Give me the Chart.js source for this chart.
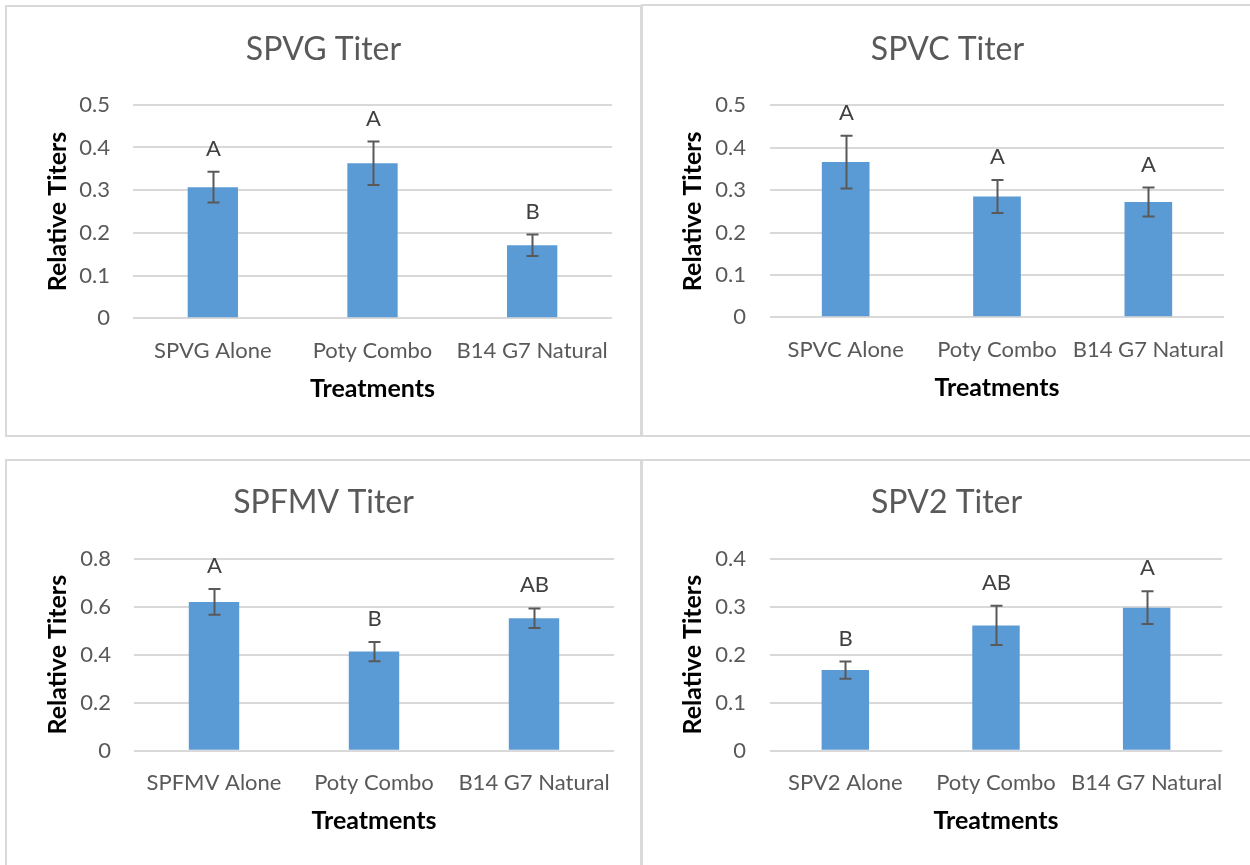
<!DOCTYPE html>
<html>
<head>
<meta charset="utf-8">
<script src="https://cdn.jsdelivr.net/npm/chart.js@4.4.1/dist/chart.umd.min.js"></script>
<style>
  html, body { margin: 0; padding: 0; background: #fff; width: 1250px; height: 865px; overflow: hidden; }
  .frame { position: absolute; border: 2px solid #d9d9d9; box-sizing: border-box; }
  canvas { position: absolute; }
</style>
</head>
<body>
<div class="frame" style="left:5px;top:5px;width:637px;height:432px"></div>
<div class="frame" style="left:641px;top:4px;width:620px;height:433px"></div>
<div class="frame" style="left:5px;top:459px;width:637px;height:420px"></div>
<div class="frame" style="left:641px;top:459px;width:620px;height:420px"></div>
<canvas id="spvg"></canvas>
<canvas id="spvc"></canvas>
<canvas id="spfmv"></canvas>
<canvas id="spv2"></canvas>
<script>
// ---- data ----
const spvgLabels  = ['SPVG Alone', 'Poty Combo', 'B14 G7 Natural'];
const spvgTiter   = [0.307, 0.363, 0.171];
const spvgError   = [0.036, 0.051, 0.025];
const spvgGroups  = ['A', 'A', 'B'];

const spvcLabels  = ['SPVC Alone', 'Poty Combo', 'B14 G7 Natural'];
const spvcTiter   = [0.366, 0.285, 0.272];
const spvcError   = [0.062, 0.039, 0.034];
const spvcGroups  = ['A', 'A', 'A'];

const spfmvLabels = ['SPFMV Alone', 'Poty Combo', 'B14 G7 Natural'];
const spfmvTiter  = [0.620, 0.413, 0.552];
const spfmvError  = [0.054, 0.040, 0.041];
const spfmvGroups = ['A', 'B', 'AB'];

const spv2Labels  = ['SPV2 Alone', 'Poty Combo', 'B14 G7 Natural'];
const spv2Titer   = [0.168, 0.261, 0.298];
const spv2Error   = [0.018, 0.041, 0.034];
const spv2Groups  = ['B', 'AB', 'A'];

// y-axis tick ranges
const spvgTicks  = [0, 0.1, 0.2, 0.3, 0.4, 0.5];
const spvcTicks  = [0, 0.1, 0.2, 0.3, 0.4, 0.5];
const spfmvTicks = [0, 0.2, 0.4, 0.6, 0.8];
const spv2Ticks  = [0, 0.1, 0.2, 0.3, 0.4];

const yAxisTitle = 'Relative Titers';
const xAxisTitle = 'Treatments';

// ---- styling ----
const FONT = 'Lato, "Open Sans", sans-serif';
const TICK_SIZE = 22;
const TITLE_SIZE = 32;
const AXIS_TITLE_SIZE = 25;
const BAR_COLOR = '#5b9bd5';
const TEXT_GREY = '#595959';
const GRID_GREY = '#d9d9d9';

// Page layout for each of the four panels (canvas box and plot-area edges, page pixels)
const panels = [
  { id: 'spvg', title: 'SPVG Titer', labels: spvgLabels, values: spvgTiter, errors: spvgError, groups: spvgGroups, ticks: spvgTicks,
    box: { x: 6, y: 6, w: 635, h: 429 }, plot: { l: 133, r: 612, t: 104.7, b: 318.3 },
    titleY: 50, yTitleX: 58, yTickRight: 110, xTickY: 350, xTitleY: 389 },
  { id: 'spvc', title: 'SPVC Titer', labels: spvcLabels, values: spvcTiter, errors: spvcError, groups: spvcGroups, ticks: spvcTicks,
    box: { x: 643, y: 6, w: 609, h: 429 }, plot: { l: 770, r: 1224, t: 105.3, b: 317.3 },
    titleY: 50, yTitleX: 693, yTickRight: 746, xTickY: 349, xTitleY: 388 },
  { id: 'spfmv', title: 'SPFMV Titer', labels: spfmvLabels, values: spfmvTiter, errors: spfmvError, groups: spfmvGroups, ticks: spfmvTicks,
    box: { x: 6, y: 461, w: 635, h: 404 }, plot: { l: 134, r: 614, t: 558.7, b: 750.7 },
    titleY: 503, yTitleX: 58, yTickRight: 111, xTickY: 782, xTitleY: 821 },
  { id: 'spv2', title: 'SPV2 Titer', labels: spv2Labels, values: spv2Titer, errors: spv2Error, groups: spv2Groups, ticks: spv2Ticks,
    box: { x: 643, y: 461, w: 607, h: 404 }, plot: { l: 770, r: 1222, t: 558.7, b: 750.7 },
    titleY: 503, yTitleX: 693, yTickRight: 746, xTickY: 782, xTitleY: 821 }
];

// Error bars with capped whiskers plus the significance letters above them
const errorBarPlugin = {
  id: 'errorBars',
  afterDatasetsDraw(chart, args, opts) {
    const ctx = chart.ctx;
    const yScale = chart.scales.y;
    const meta = chart.getDatasetMeta(0);
    const values = chart.data.datasets[0].data;
    ctx.save();
    meta.data.forEach((bar, i) => {
      const v = values[i], e = opts.errors[i];
      const x = Math.round(bar.x) + 0.5;
      const yTop = yScale.getPixelForValue(v + e);
      const yBot = yScale.getPixelForValue(v - e);
      ctx.strokeStyle = '#595959';
      ctx.lineWidth = 2;
      ctx.beginPath();
      ctx.moveTo(x, yTop); ctx.lineTo(x, yBot);
      ctx.moveTo(x - 6, yTop); ctx.lineTo(x + 6, yTop);
      ctx.moveTo(x - 6, yBot); ctx.lineTo(x + 6, yBot);
      ctx.stroke();
      ctx.fillStyle = '#404040';
      ctx.font = `${TICK_SIZE}px ${FONT}`;
      ctx.textAlign = 'center';
      ctx.textBaseline = 'middle';
      ctx.fillText(opts.groups[i], x, yTop - 23);
    });
    ctx.restore();
  }
};

function buildChart(p) {
  const cv = document.getElementById(p.id);
  cv.style.left = p.box.x + 'px';
  cv.style.top = p.box.y + 'px';
  cv.width = p.box.w;
  cv.height = p.box.h;

  const rel = { l: p.plot.l - p.box.x, r: p.plot.r - p.box.x, t: p.plot.t - p.box.y, b: p.plot.b - p.box.y };
  const titleLH = TITLE_SIZE * 1.2;
  const titlePadTop = (p.titleY - p.box.y) - titleLH / 2;
  const titlePadBottom = rel.t - titlePadTop - titleLH;
  const axisLH = AXIS_TITLE_SIZE * 1.2;
  const tickLH = TICK_SIZE * 1.2;
  const step = p.ticks[1] - p.ticks[0];
  const rightGap = p.box.w - rel.r;

  return new Chart(cv, {
    type: 'bar',
    data: {
      labels: p.labels,
      datasets: [{ data: p.values, backgroundColor: BAR_COLOR, barPercentage: 0.315, categoryPercentage: 1 }]
    },
    options: {
      responsive: false,
      animation: false,
      devicePixelRatio: 1,
      layout: { padding: 0 },
      plugins: {
        legend: { display: false },
        tooltip: { enabled: false },
        title: {
          display: true, text: p.title, color: TEXT_GREY,
          font: { family: FONT, size: TITLE_SIZE, weight: 'normal' },
          padding: { top: titlePadTop, bottom: titlePadBottom }
        },
        errorBars: { errors: p.errors, groups: p.groups }
      },
      scales: {
        x: {
          grid: { display: false },
          border: { display: false },
          ticks: {
            color: TEXT_GREY, font: { family: FONT, size: TICK_SIZE },
            padding: (p.xTickY - p.box.y) - rel.b - tickLH / 2 - 7,
            maxRotation: 0, autoSkip: false
          },
          title: {
            display: true, text: xAxisTitle, color: '#000',
            font: { family: FONT, size: AXIS_TITLE_SIZE, weight: 'bold' },
            padding: { top: 0, bottom: p.box.h - (p.xTitleY - p.box.y) - axisLH / 2 }
          },
          afterFit(s) { s.height = p.box.h - rel.b; }
        },
        y: {
          min: p.ticks[0],
          max: p.ticks[p.ticks.length - 1],
          grid: { color: GRID_GREY, lineWidth: 2, drawTicks: false },
          border: { display: false },
          ticks: {
            stepSize: step, color: TEXT_GREY, font: { family: FONT, size: TICK_SIZE },
            padding: rel.l - (p.yTickRight - p.box.x)
          },
          title: {
            display: true, text: yAxisTitle, color: '#000',
            font: { family: FONT, size: AXIS_TITLE_SIZE, weight: 'bold' },
            padding: { top: (p.yTitleX - p.box.x) - axisLH / 2, bottom: 0 }
          },
          afterFit(s) { s.width = rel.l; }
        },
        // empty right-hand spacer so the chart title stays centred on the whole panel
        spacer: {
          type: 'linear', position: 'right', display: true,
          grid: { display: false }, border: { display: false }, ticks: { display: false },
          afterFit(s) { s.width = rightGap; }
        }
      }
    },
    plugins: [errorBarPlugin]
  });
}

panels.forEach(buildChart);
</script>
</body>
</html>
